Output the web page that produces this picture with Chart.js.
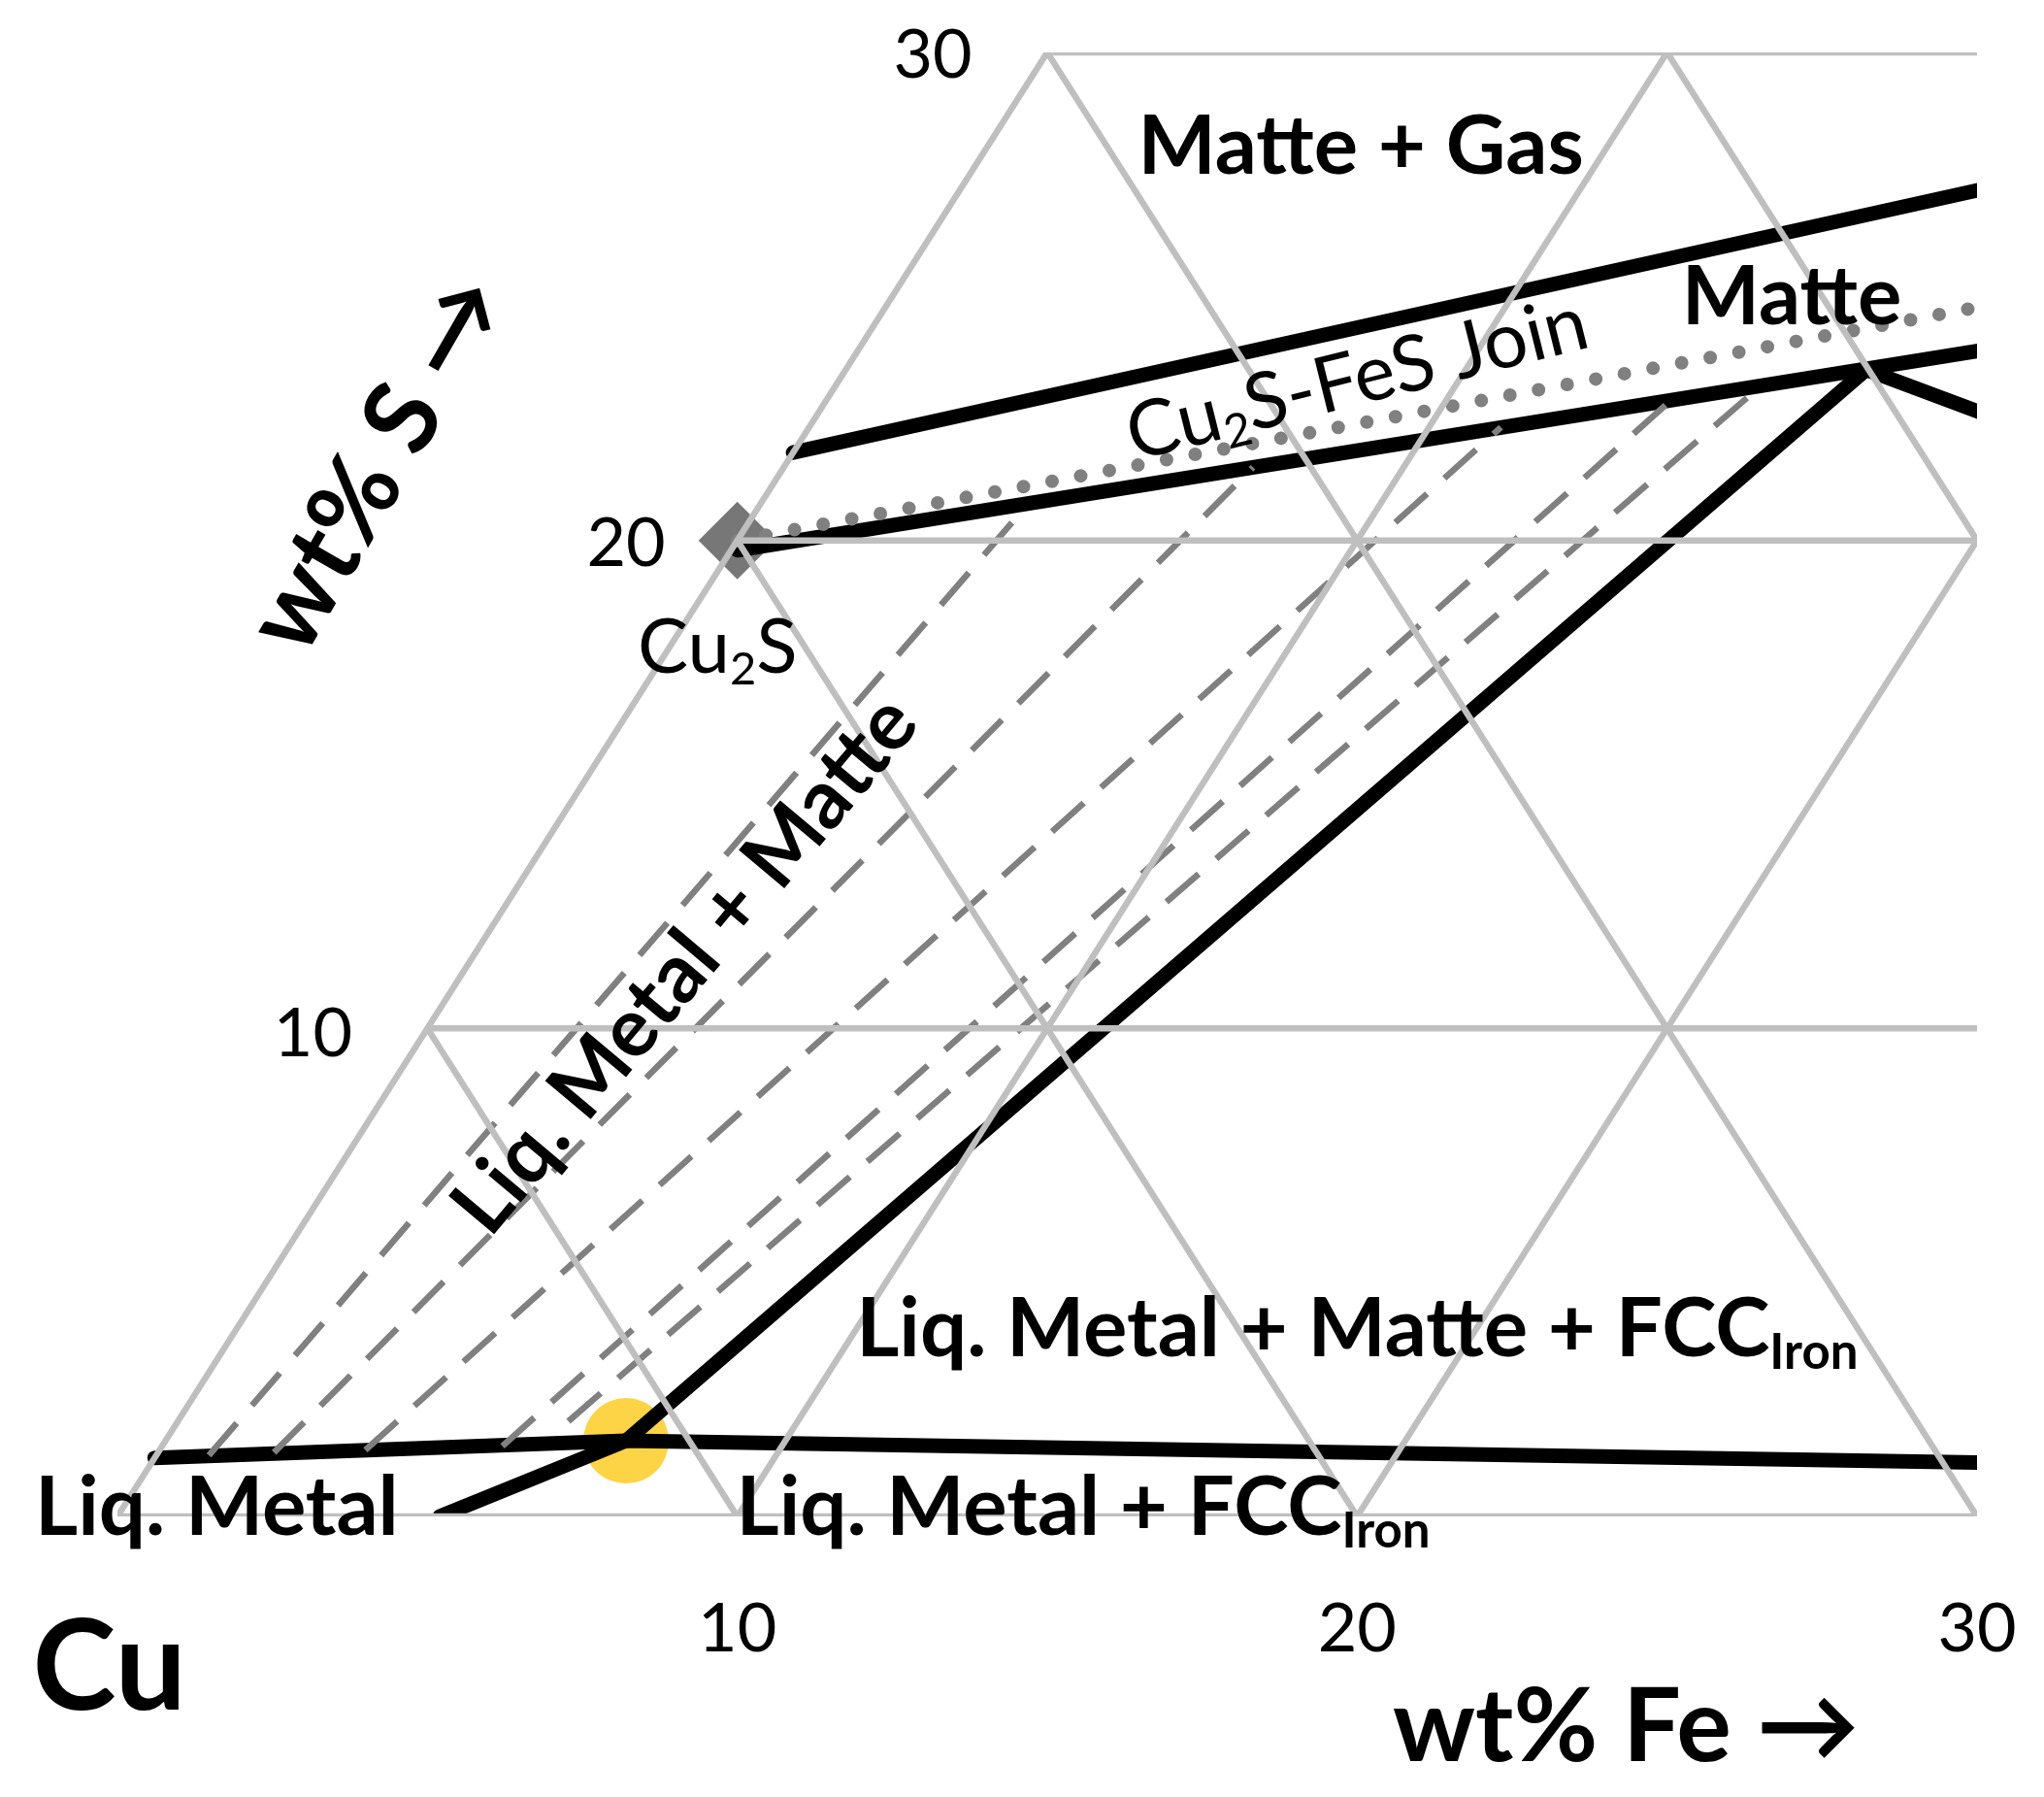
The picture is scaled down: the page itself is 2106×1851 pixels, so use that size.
<!DOCTYPE html>
<html><head><meta charset="utf-8">
<script src="https://cdn.jsdelivr.net/npm/chart.js@4/dist/chart.umd.min.js"></script>
<style>html,body{margin:0;padding:0;background:#fff}#wrap{width:2106px;height:1851px}</style>
</head><body><div id="wrap"><canvas id="c"></canvas></div>
<script>
// compositions as [wt% Fe, wt% S]
const upperMatte = [[0,21.8],[16.5,27.2]];
const lowerMatte = [[0.1,19.8],[18.15,23.9]];
const joinLine = [[0,20],[17.7,24.8]];
const fccBoundary = [[5.2,0],[7.43,1.55],[16.46,23.5],[18.8,22.6]];
const metalBoundary = [[0,1.2],[7.43,1.55],[29.6,1.1]];
const tieLines = [
  [[0.85,1.25],[4.31,20.72]],
  [[1.87,1.31],[7.57,21.5]],
  [[3.32,1.36],[11.16,22.32]],
  [[5.49,1.44],[13.6,22.8]],
  [[6.3,1.95],[14.9,23.1]]
];
const cu2sPoint = [[0,20]];
const eutecticPoint = [[7.43,1.55]];
const sTicks = [10,20,30];
const feTicks = [10,20,30];

function toXY(p){return {x:p[0]+p[1]/2, y:p[1]};}
const grid = [];
[0,10,20,30].forEach(s=>grid.push([{x:s/2,y:s},{x:30,y:s}]));
grid.push([{x:0,y:0},{x:15,y:30}]);
grid.push([{x:10,y:0},{x:25,y:30}]);
grid.push([{x:20,y:0},{x:30,y:20}]);
grid.push([{x:5,y:10},{x:10,y:0}]);
grid.push([{x:10,y:20},{x:20,y:0}]);
grid.push([{x:15,y:30},{x:30,y:0}]);
grid.push([{x:25,y:30},{x:30,y:20}]);

const datasets = [];
grid.forEach(g=>datasets.push({data:g,borderColor:'#bfbfbf',borderWidth:6.5,pointRadius:0,showLine:true}));
tieLines.forEach(t=>datasets.push({data:t.map(toXY),borderColor:'#808080',borderWidth:6.5,borderDash:[44,24],pointRadius:0,showLine:true}));
datasets.push({data:joinLine.map(toXY),borderColor:'#808080',borderWidth:14,borderDash:[0,30],borderCapStyle:'round',pointRadius:0,showLine:true});
[upperMatte,lowerMatte,fccBoundary,metalBoundary].forEach(l=>datasets.push({data:l.map(toXY),borderColor:'#000',borderWidth:15,borderCapStyle:'round',pointRadius:0,showLine:true}));
datasets.push({data:cu2sPoint.map(toXY),pointStyle:'rectRot',pointRadius:40,backgroundColor:'#777777',borderWidth:0,showLine:false});
datasets.push({data:eutecticPoint.map(toXY),pointRadius:44,backgroundColor:'rgba(253,196,0,0.72)',borderWidth:0,showLine:false});

const F = 'Lato, "Open Sans", sans-serif';
const labels = [
  {t:'30',x:13.79,y:29.94,a:'right',w:'normal',s:70},
  {t:'20',x:8.84,y:19.92,a:'right',w:'normal',s:70},
  {t:'10',x:3.79,y:9.88,a:'right',w:'normal',s:70},
  {t:'10',x:10,y:-2.32,a:'center',w:'normal',s:70},
  {t:'20',x:20,y:-2.32,a:'center',w:'normal',s:70},
  {t:'30',x:30,y:-2.32,a:'center',w:'normal',s:70},
  {t:'Cu',x:-1.37,y:-3.12,a:'left',w:'bold',s:130},
  {t:'wt% Fe →',x:28.1,y:-4.33,a:'right',w:'bold',s:106},
  {t:'wt% S →',x:4.21,y:21.58,a:'center',w:'bold',s:106,r:-60},
  {t:'Matte + Gas',x:20.06,y:28.06,a:'center',w:'bold',s:85},
  {t:'Matte',x:27.01,y:24.97,a:'center',w:'bold',s:85},
  {t:'Cu',sub:'2',rest:'S-FeS Join',x:20,y:23.3,a:'center',w:'normal',s:80,r:-14},
  {t:'Cu',sub:'2',rest:'S',x:9.68,y:17.78,a:'center',w:'normal',s:78},
  {t:'Liq. Metal + Matte',x:9.16,y:11.3,a:'center',w:'bold',s:85,r:-50},
  {t:'Liq. Metal + Matte + FCC',sub:'Iron',rest:'',x:20,y:3.82,a:'center',w:'bold',s:85},
  {t:'Liq. Metal + FCC',sub:'Iron',rest:'',x:15.58,y:0.16,a:'center',w:'bold',s:85},
  {t:'Liq. Metal',x:-1.33,y:0.16,a:'left',w:'bold',s:85}
];
const textPlugin = {id:'txt',afterDatasetsDraw(ch){
  const c=ch.ctx,xs=ch.scales.x,ys=ch.scales.y;
  labels.forEach(L=>{
    c.save();
    c.translate(xs.getPixelForValue(L.x),ys.getPixelForValue(L.y));
    if(L.r) c.rotate(L.r*Math.PI/180);
    c.fillStyle='#000';c.textBaseline='middle';
    const main=L.w+' '+L.s+'px '+F, sub=L.w+' '+Math.round(L.s*0.6)+'px '+F;
    c.font=main; const w1=c.measureText(L.t).width;
    let w2=0,w3=0;
    if(L.sub!==undefined){c.font=sub;w2=c.measureText(L.sub).width;c.font=main;w3=c.measureText(L.rest).width;}
    const tot=w1+w2+w3;
    let x0 = L.a==='left'?0:(L.a==='right'?-tot:-tot/2);
    c.textAlign='left';
    c.font=main;c.fillText(L.t,x0,0);
    if(L.sub!==undefined){c.font=sub;c.fillText(L.sub,x0+w1,L.s*0.28);c.font=main;c.fillText(L.rest,x0+w1+w2,0);}
    c.restore();
  });
}};

new Chart(document.getElementById('c'),{
  type:'scatter',
  data:{datasets},
  options:{responsive:true,maintainAspectRatio:false,animation:false,
    layout:{padding:{left:121,right:69,top:54,bottom:289}},
    plugins:{legend:{display:false},tooltip:{enabled:false}},
    scales:{x:{type:'linear',min:0,max:30,display:false},y:{type:'linear',min:0,max:30,display:false}},
    elements:{line:{tension:0}}
  },
  plugins:[textPlugin]
});
</script></body></html>
